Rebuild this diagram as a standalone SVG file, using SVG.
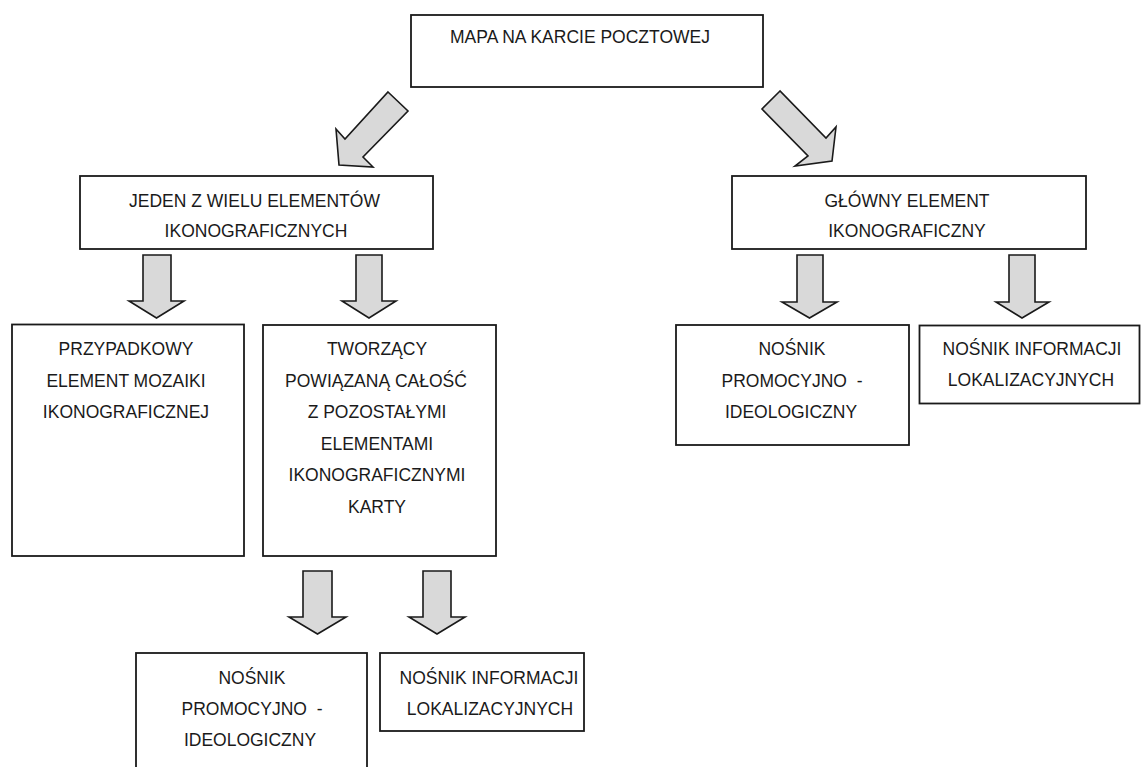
<svg xmlns="http://www.w3.org/2000/svg" width="1141" height="767" viewBox="0 0 1141 767">
<style>
.box{fill:#fff;stroke:#1a1a1a;stroke-width:1.8}
.arr{fill:#d9d9d9;stroke:#1a1a1a;stroke-width:1.6;stroke-linejoin:miter}
text{font-family:"Liberation Sans",Arial,sans-serif;font-size:17.5px;fill:#1a1a1a;text-anchor:middle}
</style>
<rect width="1141" height="767" fill="#fff"/>
<g id="connectors">
<polygon class="arr" points="388,92 408,111 363,157 373,167 339,165 336,129 345,139"/>
<polygon class="arr" points="780,91 762,109 808,156 795,166 832,161 836,127 826,138"/>
<polygon class="arr" points="143,255 171,255 171,301 184,301 156.5,318 129,301 143,301"/>
<polygon class="arr" points="356,255 382,255 382,301 396,301 369,318 342,301 356,301"/>
<polygon class="arr" points="303,571 332,571 332,617 346,617 317.5,634 289,617 303,617"/>
<polygon class="arr" points="423,571 451,571 451,617 465,617 437,634 409,617 423,617"/>
<polygon class="arr" points="797,255 823,255 823,302 837,302 809.5,318 782,302 797,302"/>
<polygon class="arr" points="1009,255 1035,255 1035,302 1049,302 1022,318 996,302 1009,302"/>
</g>
<g id="n-mapa">
<rect class="box" x="411" y="15" width="352" height="72"/>
<text x="580" y="43">MAPA NA KARCIE POCZTOWEJ</text>
</g>
<g id="n-jeden">
<rect class="box" x="80" y="176" width="353" height="73"/>
<text x="254.5" y="207">JEDEN Z WIELU ELEMENTÓW</text>
<text x="256" y="237">IKONOGRAFICZNYCH</text>
</g>
<g id="n-glowny">
<rect class="box" x="732" y="176" width="354" height="73"/>
<text x="907" y="207">GŁÓWNY ELEMENT</text>
<text x="907" y="237">IKONOGRAFICZNY</text>
</g>
<g id="n-przypadkowy">
<rect class="box" x="12" y="324.5" width="232" height="231.5"/>
<text x="126" y="355">PRZYPADKOWY</text>
<text x="126" y="386.7">ELEMENT MOZAIKI</text>
<text x="126" y="418.3">IKONOGRAFICZNEJ</text>
</g>
<g id="n-tworzacy">
<rect class="box" x="263" y="325" width="233" height="231"/>
<text x="377" y="355">TWORZĄCY</text>
<text x="376" y="386.5">POWIĄZANĄ CAŁOŚĆ</text>
<text x="377" y="418">Z POZOSTAŁYMI</text>
<text x="377" y="449.5">ELEMENTAMI</text>
<text x="377" y="481">IKONOGRAFICZNYMI</text>
<text x="377" y="512.5">KARTY</text>
</g>
<g id="n-nosnik-promo-1">
<rect class="box" x="136" y="653" width="231" height="130"/>
<text x="252" y="683.5">NOŚNIK</text>
<text x="252" y="715" xml:space="preserve">PROMOCYJNO  -</text>
<text x="250" y="746">IDEOLOGICZNY</text>
</g>
<g id="n-nosnik-info-1">
<rect class="box" x="380" y="653" width="204" height="78"/>
<text x="489" y="683.5">NOŚNIK INFORMACJI</text>
<text x="490" y="715">LOKALIZACYJNYCH</text>
</g>
<g id="n-nosnik-promo-2">
<rect class="box" x="676" y="325" width="233" height="120"/>
<text x="792" y="354.5">NOŚNIK</text>
<text x="792" y="386.5" xml:space="preserve">PROMOCYJNO  -</text>
<text x="791" y="417.5">IDEOLOGICZNY</text>
</g>
<g id="n-nosnik-info-2">
<rect class="box" x="919.5" y="325.5" width="220" height="78"/>
<text x="1032" y="354.5">NOŚNIK INFORMACJI</text>
<text x="1031" y="386">LOKALIZACYJNYCH</text>
</g>
</svg>
